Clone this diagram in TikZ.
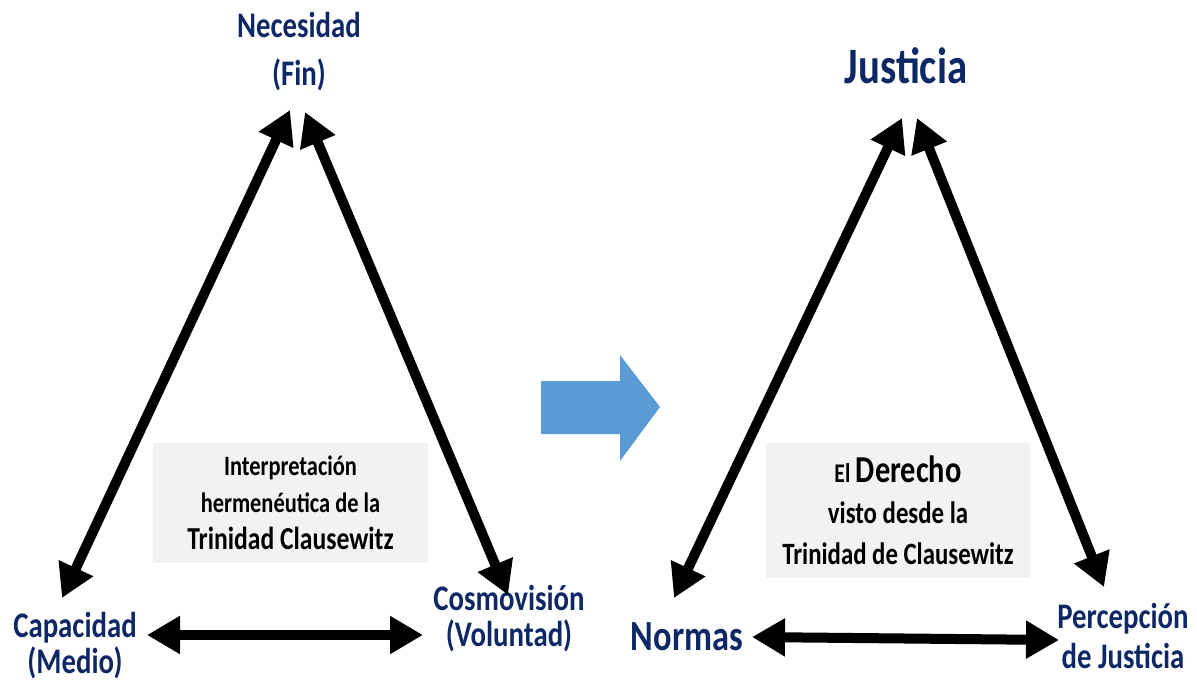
\documentclass[tikz,border=0pt]{standalone}
\usepackage{fontspec}
\newfontfamily\calfont{Carlito}[FakeStretch=0.8]
\usetikzlibrary{arrows.meta}
\definecolor{navy}{RGB}{14,40,102}
\definecolor{boxgray}{RGB}{242,242,242}
\definecolor{arrowblue}{RGB}{91,155,213}
\newcommand{\fsz}[2]{\fontsize{#1}{#2}\selectfont}

\begin{document}
\begin{tikzpicture}[x=1pt,y=-1pt,
  lbl/.style={text=navy, align=center, inner sep=0pt, anchor=base, font=\calfont\bfseries\fsz{36}{36}},
  panel/.style={fill=boxgray, align=center, inner sep=0pt, font=\calfont\bfseries\fsz{28}{37}},
  twoway/.style={{Triangle[length=33pt,width=36pt]}-{Triangle[length=33pt,width=36pt]}, line width=10pt}]
\useasboundingbox (0,0) rectangle (1197,689);

% left triangle
\node[lbl, font=\calfont\bfseries\fsz{36}{48}] (nec) at (299,85) {Necesidad\\(Fin)};
\node[lbl] (cap) at (75,673) {Capacidad\\(Medio)};
\node[lbl] (cos) at (509,646) {Cosmovisión\\(Voluntad)};
\node[panel, minimum width=275, minimum height=120] (herm) at (290.5,503)
  {Interpretación\\hermenéutica de la\\{\fsz{32}{37}Trinidad Clausewitz}};

\coordinate (nec-l) at (290,110);
\coordinate (nec-r) at (305,112);
\coordinate (cap-t) at (62,598);
\coordinate (cap-r) at (147,635);
\coordinate (cos-t) at (508,595);
\coordinate (cos-l) at (423,635);
\draw[twoway] (cap-t) -- (nec-l);
\draw[twoway] (nec-r) -- (cos-t);
\draw[twoway] (cap-r) -- (cos-l);

% blue arrow
\fill[arrowblue] (541,381) -- (620,381) -- (620,355) -- (660,407) -- (620,461) -- (620,434) -- (541,434) -- cycle;

% right triangle
\node[lbl, font=\calfont\bfseries\fsz{51}{50}] (jus) at (906,83) {Justicia};
\node[lbl, font=\calfont\bfseries\fsz{43}{44}] (nor) at (687,650) {Normas};
\node[lbl, font=\calfont\bfseries\fsz{36}{40}] (per) at (1123,668) {Percepción\\de Justicia};
\node[panel, minimum width=264, minimum height=135, font=\calfont\bfseries\fsz{31}{41}] (der) at (898,510.5)
  {{\fsz{27}{41}El} {\fsz{38}{41}Derecho}\\visto desde la\\Trinidad de Clausewitz};

\coordinate (jus-l) at (902,118);
\coordinate (jus-r) at (917,118);
\coordinate (nor-t) at (674,598);
\coordinate (nor-r) at (752,637);
\coordinate (per-t) at (1104,587);
\coordinate (per-l) at (1059,640);
\draw[twoway] (nor-t) -- (jus-l);
\draw[twoway] (jus-r) -- (per-t);
\draw[twoway] (nor-r) -- (per-l);
\end{tikzpicture}
\end{document}
